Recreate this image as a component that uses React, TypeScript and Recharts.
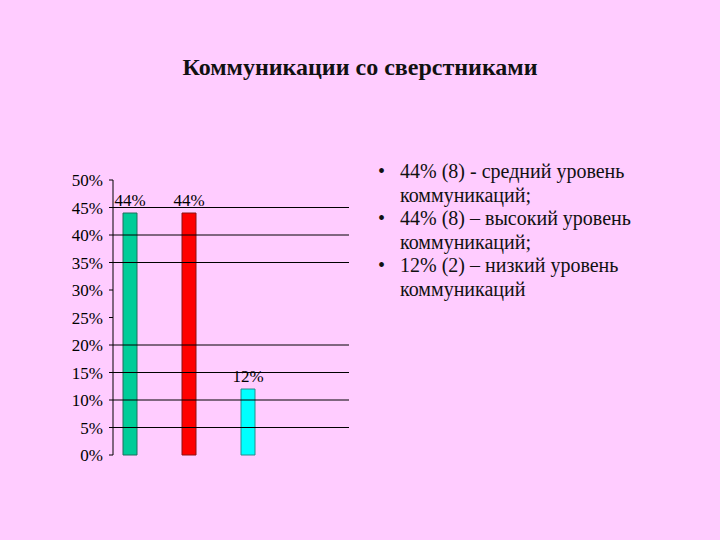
import React from 'react';
import { BarChart, Bar, XAxis, YAxis, ReferenceLine, LabelList, Cell } from 'recharts';

const categories = ['средний', 'высокий', 'низкий'];
const values = [44, 44, 12];
const yTicks = [0, 5, 10, 15, 20, 25, 30, 35, 40, 45, 50];
const gridValues = [5, 10, 15, 20, 35, 40, 45];
const title = 'Коммуникации со сверстниками';
const notes = [
  '44% (8) - средний уровень коммуникаций;',
  '44% (8) – высокий уровень коммуникаций;',
  '12% (2) – низкий уровень коммуникаций',
];

const barFills = ['#00CC99', '#FF0000', '#00FFFF'];
const barStrokes = ['#1f6f5c', '#8a1414', '#2a8a8a'];

const data = categories.map((name, i) => ({ name, value: values[i], spacer: null as number | null }));

const serif = '"Liberation Serif", "DejaVu Serif", serif';

export default function App() {
  return (
    <div style={{ position: 'absolute', left: 0, top: 0, width: 720, height: 540, background: '#FFCCFF', fontFamily: serif, color: '#111' }}>
      <div style={{ position: 'absolute', left: 0, top: 52, width: 720, textAlign: 'center', fontSize: 24, fontWeight: 'bold', lineHeight: '30px' }}>
        {title}
      </div>
      <BarChart
        width={720}
        height={540}
        data={data}
        margin={{ top: 180, right: 371, bottom: 85, left: 53 }}
        barGap={11}
        style={{ position: 'absolute', left: 0, top: 0 }}
      >
        <XAxis dataKey="name" hide padding={{ left: 0, right: 59 }} />
        <YAxis
          width={60}
          domain={[0, 50]}
          ticks={yTicks}
          interval={0}
          tickFormatter={(v: number) => `${v}%`}
          axisLine={{ stroke: '#000', strokeWidth: 1 }}
          tickLine={{ stroke: '#000' }}
          tickSize={4}
          tickMargin={6}
          tick={{ fill: '#000', fontSize: 17, fontFamily: serif }}
        />
        {gridValues.map((v) => (
          <ReferenceLine key={v} y={v} stroke="#000" strokeWidth={1} />
        ))}
        <Bar dataKey="value" barSize={14} isAnimationActive={false}>
          {data.map((d, i) => (
            <Cell key={d.name} fill={barFills[i]} stroke={barStrokes[i]} strokeWidth={1} />
          ))}
          <LabelList
            dataKey="value"
            position="top"
            offset={7}
            formatter={(v: number) => `${v}%`}
            style={{ fill: '#000', fontSize: 17, fontFamily: serif }}
          />
        </Bar>
        <Bar dataKey="spacer" barSize={14} isAnimationActive={false} fill="none" />
      </BarChart>
      <div style={{ position: 'absolute', left: 378, top: 160, width: 320, fontSize: 20, lineHeight: '23.6px' }}>
        {notes.map((n) => (
          <div key={n} style={{ position: 'relative', paddingLeft: 22, width: 260 }}>
            <span style={{ position: 'absolute', left: 0, top: 0 }}>•</span>
            {n}
          </div>
        ))}
      </div>
    </div>
  );
}
